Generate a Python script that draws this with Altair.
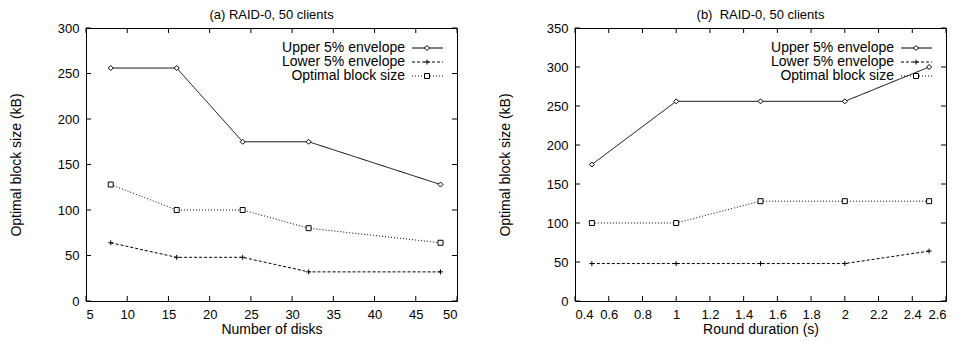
import altair as alt
import pandas as pd

series = ["Upper 5% envelope", "Lower 5% envelope", "Optimal block size"]

# Panel (a): number of disks
disks = [8, 16, 24, 32, 48]
disks_upper = [256, 256, 175, 175, 128]
disks_lower = [64, 48, 48, 32, 32]
disks_opt = [128, 100, 100, 80, 64]

# Panel (b): round duration
rounds = [0.5, 1.0, 1.5, 2.0, 2.5]
rounds_upper = [175, 256, 256, 256, 300]
rounds_lower = [48, 48, 48, 48, 64]
rounds_opt = [100, 100, 128, 128, 128]

x_ticks_a = [5, 10, 15, 20, 25, 30, 35, 40, 45, 50]
y_ticks_a = [0, 50, 100, 150, 200, 250, 300]
x_ticks_b = [0.4, 0.6, 0.8, 1.0, 1.2, 1.4, 1.6, 1.8, 2.0, 2.2, 2.4, 2.6]
y_ticks_b = [0, 50, 100, 150, 200, 250, 300, 350]

FONT = "Liberation Sans"
DASH = [[1, 0], [3, 2], [1, 2]]
PLUS = "M-1,0L1,0M0,-1L0,1"
SHAPES = ["diamond", PLUS, "square"]
W, H = 371, 273
TICK = 5


def panel(title, xs, ups, lows, opts, xdom, ydom, xticks, yticks, xtitle, fmt):
    rows = []
    for name, vals in zip(series, [ups, lows, opts]):
        for x, y in zip(xs, vals):
            rows.append({"series": name, "x": x, "y": y})
    df = pd.DataFrame(rows)

    xenc = alt.X(
        "x:Q",
        scale=alt.Scale(domain=xdom, nice=False, zero=False),
        axis=alt.Axis(values=xticks, format=fmt, title=xtitle,
                      labelPadding=7, titlePadding=1),
    )
    yenc = alt.Y(
        "y:Q",
        scale=alt.Scale(domain=ydom, nice=False),
        axis=alt.Axis(values=yticks, title="Optimal block size (kB)",
                      labelPadding=7, titlePadding=34),
    )

    lines = alt.Chart(df).mark_line(color="black", strokeWidth=1).encode(
        x=xenc,
        y=yenc,
        detail="series:N",
        strokeDash=alt.StrokeDash("series:N",
                                  scale=alt.Scale(domain=series, range=DASH),
                                  legend=None),
    )
    pts = alt.Chart(df).mark_point(
        color="black", fill="white", fillOpacity=1, filled=False,
        size=25, strokeWidth=1, opacity=1,
    ).encode(
        x=xenc,
        y=yenc,
        shape=alt.Shape("series:N",
                        scale=alt.Scale(domain=series, range=SHAPES),
                        legend=None),
    )

    xt = pd.DataFrame({"x": xticks})
    yt = pd.DataFrame({"y": yticks})
    xtick_b = alt.Chart(xt).mark_rule(color="black", strokeWidth=1).encode(
        x=xenc, y=alt.value(H), y2=alt.value(H - TICK))
    xtick_t = alt.Chart(xt).mark_rule(color="black", strokeWidth=1).encode(
        x=xenc, y=alt.value(0), y2=alt.value(TICK))
    ytick_l = alt.Chart(yt).mark_rule(color="black", strokeWidth=1).encode(
        y=yenc, x=alt.value(0), x2=alt.value(TICK))
    ytick_r = alt.Chart(yt).mark_rule(color="black", strokeWidth=1).encode(
        y=yenc, x=alt.value(W), x2=alt.value(W - TICK))

    layers = [xtick_b, xtick_t, ytick_l, ytick_r, lines, pts]

    for i, name in enumerate(series):
        ld = pd.DataFrame({"label": [name]})
        yy = 20 + 14 * i
        layers.append(
            alt.Chart(ld).mark_text(align="right", baseline="middle",
                                    font=FONT, fontSize=14, color="black")
            .encode(text="label:N", x=alt.value(319), y=alt.value(yy))
        )
        layers.append(
            alt.Chart(ld).mark_rule(color="black", strokeWidth=1,
                                    strokeDash=DASH[i])
            .encode(x=alt.value(326), x2=alt.value(357), y=alt.value(yy))
        )
        layers.append(
            alt.Chart(ld).mark_point(shape=SHAPES[i], color="black",
                                     fill="white", fillOpacity=1,
                                     filled=False, size=25, strokeWidth=1,
                                     opacity=1)
            .encode(x=alt.value(341), y=alt.value(yy))
        )

    return alt.layer(*layers).properties(
        width=W, height=H,
        title=alt.TitleParams(title, font=FONT, fontSize=13,
                              fontWeight="normal", color="black",
                              anchor="middle", offset=0),
    )


pa = panel("(a) RAID-0, 50 clients", disks, disks_upper, disks_lower,
           disks_opt, [5, 50], [0, 300], x_ticks_a, y_ticks_a,
           "Number of disks", "d")
pb = panel("(b)\u00a0 RAID-0, 50 clients", rounds, rounds_upper, rounds_lower,
           rounds_opt, [0.4, 2.6], [0, 350], x_ticks_b, y_ticks_b,
           "Round duration (s)", "~g")

chart = alt.hconcat(pa, pb, spacing=39).properties(
    padding={"left": 0, "top": 0, "right": 0, "bottom": 0}
).configure_view(
    stroke="black", strokeWidth=1
).configure_axis(
    domain=False, ticks=False, grid=False, tickSize=0,
    labelFont=FONT, labelFontSize=13, labelColor="black",
    titleFont=FONT, titleFontSize=14, titleColor="black",
    titleFontWeight="normal",
)

chart.save("out.html", embed_options={"renderer": "svg", "actions": False})
